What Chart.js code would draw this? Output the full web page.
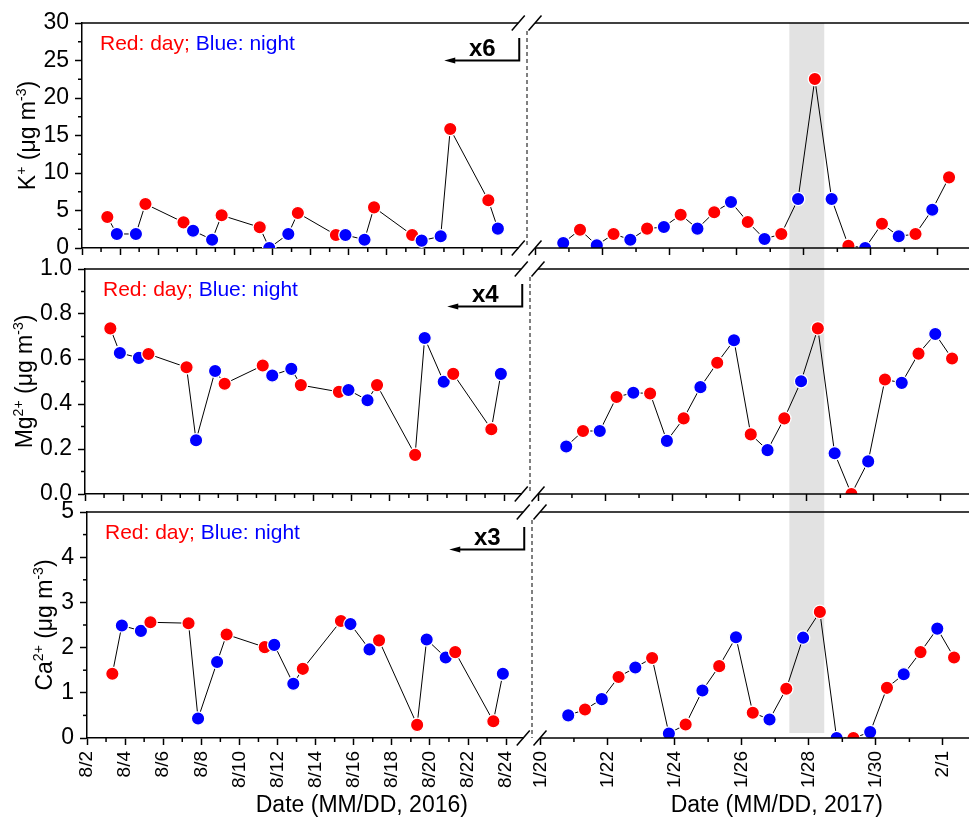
<!DOCTYPE html>
<html>
<head>
<meta charset="utf-8">
<script src="https://cdn.jsdelivr.net/npm/chart.js@4.4.1/dist/chart.umd.min.js"></script>
<style>
html,body{margin:0;padding:0;background:#fff;overflow:hidden;width:969px;height:820px;}
canvas{position:absolute;}
</style>
</head>
<body>
<script>
// ================= DATA =================
// sampling times: August 2016 as day of month; January 2017 as day of January (32 = Feb 1)
const augTimes = [3.33, 3.83, 4.83, 5.33, 7.33, 7.83, 8.83, 9.33, 11.33, 11.83, 12.83, 13.33,
                  15.33, 15.83, 16.83, 17.33, 19.33, 19.83, 20.83, 21.33, 23.33, 23.83];
const augPeriods = ['day','night','night','day','day','night','night','day','day','night','night','day',
                    'day','night','night','day','day','night','night','day','day','night'];
const janTimes = [20.83, 21.33, 21.83, 22.33, 22.83, 23.33, 23.83, 24.33, 24.83, 25.33, 25.83, 26.33,
                  26.83, 27.33, 27.83, 28.33, 28.83, 29.33, 29.83, 30.33, 30.83, 31.33, 31.83, 32.33];
const janPeriods = ['night','day','night','day','night','day','night','day','night','day','night','day',
                    'night','day','night','day','night','day','night','day','night','day','night','day'];

const kAug  = [4.13, 1.87, 1.87, 5.87, 3.42, 2.31, 1.11, 4.36, 2.76, 0.0, 1.87, 4.67,
               1.73, 1.73, 1.11, 5.42, 1.73, 0.98, 1.56, 15.87, 6.36, 2.58];
const kJan  = [0.67, 2.44, 0.36, 1.87, 1.11, 2.58, 2.80, 4.44, 2.58, 4.76, 6.13, 3.47,
               1.20, 1.87, 6.53, 22.53, 6.53, 0.31, 0.0, 3.24, 1.56, 1.87, 5.11, 9.42];
const mgAug = [0.736, 0.627, 0.605, 0.622, 0.563, 0.239, 0.547, 0.490, 0.571, 0.527, 0.556, 0.484,
               0.454, 0.462, 0.417, 0.484, 0.174, 0.693, 0.499, 0.534, 0.288, 0.534];
const mgJan = [0.211, 0.280, 0.280, 0.431, 0.450, 0.447, 0.236, 0.336, 0.475, 0.583, 0.683, 0.265,
               0.195, 0.336, 0.501, 0.736, 0.181, 0.0, 0.145, 0.509, 0.494, 0.624, 0.711, 0.602];
const caAug = [1.42, 2.49, 2.37, 2.56, 2.54, 0.43, 1.68, 2.29, 2.01, 2.06, 1.20, 1.53,
               2.59, 2.52, 1.96, 2.16, 0.29, 2.18, 1.78, 1.90, 0.37, 1.42];
const caJan = [0.50, 0.63, 0.86, 1.35, 1.56, 1.77, 0.10, 0.30, 1.05, 1.59, 2.23, 0.56,
               0.41, 1.09, 2.22, 2.79, 0.0, 0.0, 0.13, 1.11, 1.41, 1.90, 2.42, 1.78];

const augTickValues = [2, 4, 6, 8, 10, 12, 14, 16, 18, 20, 22, 24];
const augTickLabels = ['8/2','8/4','8/6','8/8','8/10','8/12','8/14','8/16','8/18','8/20','8/22','8/24'];
const janTickValues = [20, 22, 24, 26, 28, 30, 32];
const janTickLabels = ['1/20','1/22','1/24','1/26','1/28','1/30','2/1'];

const shadeRange = [27.57, 28.61];          // shaded period (January days)
const noteParts = [['Red: day; ', 'red'], ['Blue: night', 'blue']];
const xTitles = ['Date (MM/DD, 2016)', 'Date (MM/DD, 2017)'];
const yTitleK  = [['K',0],['+',1],[' (\u03BCg m',0],['-3',1],[')',0]];
const yTitleMg = [['Mg',0],['2+',1],[' (\u03BCg m',0],['-3',1],[')',0]];
const yTitleCa = [['Ca',0],['2+',1],[' (\u03BCg m',0],['-3',1],[')',0]];
const factorLabels = ['x6', 'x4', 'x3'];
const yRanges = [[0, 30, 5], [0, 1, 0.2], [0, 5, 1]];
const yDecimals = [0, 1, 0];

// ================= STYLE / LAYOUT =================
const FONT = "'Liberation Sans', Arial, Helvetica, sans-serif";
const COLORS = {day: '#ff0000', night: '#0000ff'};
const BAND_COLOR = '#e2e2e2';
const LEFT_MIN = 2, LEFT_MAX = 24.9, LEFT_PPD = 19.05;
const RIGHT_MIN = 19.75, RIGHT_PPD = 33.55;
const PAGE_W = 969;
const AXIS_X0 = 82, DASH_X0 = 527;

const panels = [
  {yTitle: yTitleK,  aug: kAug,  jan: kJan,  top: 23,  bottom: 248, off: 0, titleX: 27,
   cTop: 0,   cBottom: 262, band0: 23,  band1: 258},
  {yTitle: yTitleMg, aug: mgAug, jan: mgJan, top: 269, bottom: 494, off: 3, titleX: 23.5,
   cTop: 254, cBottom: 506, band0: 258, band1: 503},
  {yTitle: yTitleCa, aug: caAug, jan: caJan, top: 512, bottom: 738, off: 5, titleX: 44,
   cTop: 500, cBottom: 820, band0: 503, band1: 733}
];

let bandPage = null;

function line(ctx, x1, y1, x2, y2) {
  ctx.beginPath(); ctx.moveTo(x1, y1); ctx.lineTo(x2, y2); ctx.stroke();
}
function slash(ctx, x, y) {
  ctx.save(); ctx.strokeStyle = '#000'; ctx.lineWidth = 1.5;
  line(ctx, x - 6.5, y + 7.5, x + 6.5, y - 7.5);
  ctx.restore();
}
function drawYTitle(ctx, parts, cx, cy, size) {
  ctx.save();
  ctx.translate(cx, cy);
  ctx.rotate(-Math.PI / 2);
  ctx.fillStyle = '#000';
  ctx.textBaseline = 'alphabetic';
  ctx.textAlign = 'left';
  const sup = Math.round(size * 0.62);
  let total = 0;
  for (const [t, s] of parts) { ctx.font = (s ? sup : size) + 'px ' + FONT; total += ctx.measureText(t).width; }
  let x = -total / 2;
  const base = size * 0.36;
  for (const [t, s] of parts) {
    ctx.font = (s ? sup : size) + 'px ' + FONT;
    ctx.fillText(t, x, s ? base - size * 0.40 : base);
    x += ctx.measureText(t).width;
  }
  ctx.restore();
}
function minorYTicks(ctx, ys, x) {
  const t = ys.ticks;
  for (let i = 0; i < t.length - 1; i++) {
    const py = ys.getPixelForValue((t[i].value + t[i + 1].value) / 2);
    line(ctx, x - 4, py, x, py);
  }
}
function minorXTicks(ctx, xs, values, y) {
  for (const v of values) {
    const m = v + 1;
    if (m > xs.min && m < xs.max) { const px = xs.getPixelForValue(m); line(ctx, px, y, px, y + 4); }
  }
}

function makeCanvas(x, y, w, h) {
  const c = document.createElement('canvas');
  c.width = w; c.height = h;
  c.style.left = x + 'px'; c.style.top = y + 'px';
  c.style.width = w + 'px'; c.style.height = h + 'px';
  document.body.appendChild(c);
  return c;
}

function dataset(times, vals, periods) {
  return {
    data: times.map((t, i) => ({x: t, y: vals[i]})),
    showLine: true,
    borderColor: '#000',
    borderWidth: 1,
    tension: 0,
    pointRadius: 6.7,
    pointBorderWidth: 1.3,
    pointBorderColor: '#ffffff',
    pointBackgroundColor: periods.map(p => COLORS[p]),
    clip: 0
  };
}

function tickFont(size) { return {family: FONT, size: size}; }

panels.forEach((P, pi) => {
  const cH = P.cBottom - P.cTop;
  const xH = cH - (P.bottom - P.cTop);
  const [yMin, yMax, yStep] = yRanges[pi];
  const showX = pi === 2;

  // ---------- left (2016) ----------
  const lLeft = AXIS_X0 + P.off;
  const lRight = lLeft + (LEFT_MAX - LEFT_MIN) * LEFT_PPD;
  const lW = Math.round(lRight + 12);
  const lc = makeCanvas(0, P.cTop, lW, cH);
  new Chart(lc, {
    type: 'scatter',
    data: {datasets: [dataset(augTimes, P.aug, augPeriods)]},
    options: {
      responsive: false, animation: false, events: [],
      layout: {autoPadding: false, padding: {top: P.top - P.cTop, left: 0, right: lW - lRight, bottom: 0}},
      plugins: {legend: {display: false}, tooltip: {enabled: false}},
      scales: {
        x: {
          type: 'linear', position: 'bottom', min: LEFT_MIN, max: LEFT_MAX,
          afterBuildTicks: s => { s.ticks = augTickValues.map(v => ({value: v})); },
          afterFit: s => { s.height = xH; s.paddingLeft = 0; s.paddingRight = 0; },
          ticks: {display: showX, autoSkip: false, minRotation: 90, maxRotation: 90, padding: 6,
                  color: '#000', font: tickFont(19),
                  callback: (v, i) => augTickLabels[i]},
          grid: {display: true, drawOnChartArea: false, drawTicks: true, tickLength: 7,
                 tickWidth: 1.5, tickColor: '#000'},
          border: {display: true, color: '#000', width: 1.5}
        },
        y: {
          type: 'linear', position: 'left', min: yMin, max: yMax,
          afterFit: s => { s.width = lLeft; s.paddingTop = 0; s.paddingBottom = 0; },
          ticks: {stepSize: yStep, padding: 6, color: '#000', font: tickFont(23),
                  callback: v => Number(v).toFixed(yDecimals[pi])},
          grid: {display: true, drawOnChartArea: false, drawTicks: true, tickLength: 7,
                 tickWidth: 1.5, tickColor: '#000'},
          border: {display: true, color: '#000', width: 1.5}
        }
      }
    },
    plugins: [{
      id: 'leftDeco',
      afterDraw(chart) {
        const ctx = chart.ctx, ca = chart.chartArea;
        const xs = chart.scales.x, ys = chart.scales.y;
        ctx.save();
        ctx.strokeStyle = '#000'; ctx.lineWidth = 1.5;
        line(ctx, ca.left, ca.top, ca.right, ca.top);
        minorXTicks(ctx, xs, augTickValues, ca.bottom);
        minorYTicks(ctx, ys, ca.left);
        ctx.restore();
        slash(ctx, ca.right, ca.top);
        slash(ctx, ca.right, ca.bottom);
        // day/night note
        ctx.save();
        ctx.font = '21px ' + FONT; ctx.textBaseline = 'alphabetic'; ctx.textAlign = 'left';
        let tx = ca.left + 18;
        for (const [t, c] of noteParts) { ctx.fillStyle = c; ctx.fillText(t, tx, ca.top + 26.5); tx += ctx.measureText(t).width; }
        // factor label with bracket arrow
        ctx.fillStyle = '#000';
        ctx.font = 'bold 24px ' + FONT; ctx.textAlign = 'center';
        ctx.fillText(factorLabels[pi], ca.right - 36, ca.top + 32.5);
        ctx.strokeStyle = '#000'; ctx.lineWidth = 2;
        const bx = ca.right + 1, by = ca.top + 37.5;
        ctx.beginPath(); ctx.moveTo(bx, ca.top + 15); ctx.lineTo(bx, by); ctx.lineTo(ca.right - 64, by); ctx.stroke();
        ctx.beginPath(); ctx.moveTo(ca.right - 74, by); ctx.lineTo(ca.right - 63, by - 3); ctx.lineTo(ca.right - 63, by + 3); ctx.closePath(); ctx.fill();
        // y title
        drawYTitle(ctx, P.yTitle, P.titleX, (ca.top + ca.bottom) / 2, 23);
        // x title
        if (showX) {
          ctx.font = '23px ' + FONT; ctx.textAlign = 'center'; ctx.fillStyle = '#000';
          ctx.fillText(xTitles[0], ca.left + 0.63 * (ca.right - ca.left), 812 - P.cTop);
        }
        ctx.restore();
      }
    }]
  });

  // ---------- right (2017) ----------
  const rLeft = DASH_X0 + P.off;
  const rMax = RIGHT_MIN + (PAGE_W - rLeft) / RIGHT_PPD;
  const rcX = rLeft - 20;
  const rW = PAGE_W - rcX;
  const rc = makeCanvas(rcX, P.cTop, rW, cH);
  new Chart(rc, {
    type: 'scatter',
    data: {datasets: [dataset(janTimes, P.jan, janPeriods)]},
    options: {
      responsive: false, animation: false, events: [],
      layout: {autoPadding: false, padding: {top: P.top - P.cTop, left: 20, right: 0, bottom: 0}},
      plugins: {legend: {display: false}, tooltip: {enabled: false}},
      scales: {
        x: {
          type: 'linear', position: 'bottom', min: RIGHT_MIN, max: rMax,
          afterBuildTicks: s => { s.ticks = janTickValues.map(v => ({value: v})); },
          afterFit: s => { s.height = xH; s.paddingLeft = 0; s.paddingRight = 0; },
          ticks: {display: showX, autoSkip: false, minRotation: 90, maxRotation: 90, padding: 6,
                  color: '#000', font: tickFont(19),
                  callback: (v, i) => janTickLabels[i]},
          grid: {display: true, drawOnChartArea: false, drawTicks: true, tickLength: 7,
                 tickWidth: 1.5, tickColor: '#000'},
          border: {display: false}
        },
        y: {type: 'linear', display: false, min: yMin, max: yMax}
      }
    },
    plugins: [{
      id: 'rightDeco',
      beforeDraw(chart) {
        const ctx = chart.ctx, xs = chart.scales.x;
        if (!bandPage) bandPage = [rcX + xs.getPixelForValue(shadeRange[0]), rcX + xs.getPixelForValue(shadeRange[1])];
        ctx.save();
        ctx.fillStyle = BAND_COLOR;
        ctx.fillRect(bandPage[0] - rcX, P.band0 - P.cTop, bandPage[1] - bandPage[0], P.band1 - P.band0);
        ctx.restore();
      },
      afterDraw(chart) {
        const ctx = chart.ctx, ca = chart.chartArea, xs = chart.scales.x;
        ctx.save();
        ctx.strokeStyle = '#000'; ctx.lineWidth = 1.5;
        line(ctx, ca.left + 8, ca.top, ca.right, ca.top);
        line(ctx, ca.left + 8, ca.bottom, ca.right, ca.bottom);
        minorXTicks(ctx, xs, janTickValues, ca.bottom);
        ctx.lineWidth = 1; ctx.setLineDash([4, 3]);
        line(ctx, ca.left, ca.top + 8, ca.left, ca.bottom);
        ctx.setLineDash([]);
        ctx.restore();
        slash(ctx, ca.left + 8, ca.top);
        slash(ctx, ca.left + 8, ca.bottom);
        if (showX) {
          ctx.save();
          ctx.font = '23px ' + FONT; ctx.textAlign = 'center'; ctx.fillStyle = '#000';
          ctx.fillText(xTitles[1], ca.left + 0.56 * (ca.right - ca.left), 812 - P.cTop);
          ctx.restore();
        }
      }
    }]
  });
});
</script>
</body>
</html>
